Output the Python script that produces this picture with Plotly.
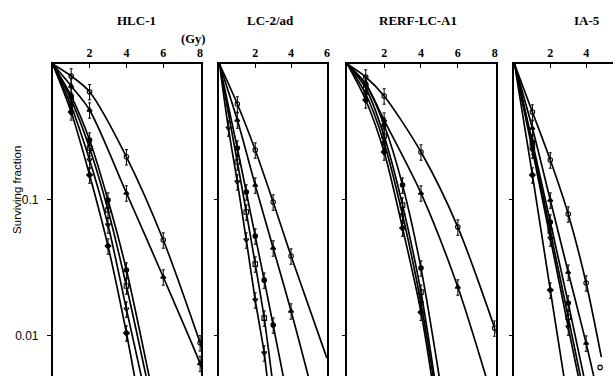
import plotly.graph_objects as go

# ---------------- data (dose in Gy, surviving fraction) ----------------
PANEL_TITLES = ["HLC-1", "LC-2/ad", "RERF-LC-A1", "IA-5"]
X_TICKS = [[2, 4, 6, 8], [2, 4, 6], [2, 4, 6, 8], [2, 4]]
X_RANGES = [[0, 8.05], [0, 6.0], [0, 8.05], [0, 5.5]]
Y_TICK_VALS = [0.1, 0.01]
Y_TICK_TEXT = ["0.1", "0.01"]

# HLC-1
HLC1_A_DOSE = [0, 1, 2, 4, 6, 8, 8.1]
HLC1_A_SF = [1, 0.816, 0.625, 0.207, 0.0504, 0.0088, 0.0080]
HLC1_B_DOSE = [0, 1, 2, 4, 6, 8, 8.1]
HLC1_B_SF = [1, 0.688, 0.458, 0.112, 0.0269, 0.0062, 0.0056]
HLC1_C_DOSE = [0, 1, 2, 3, 4, 5.3]
HLC1_C_SF = [1, 0.581, 0.275, 0.0993, 0.0303, 0.0045]
HLC1_D_DOSE = [0, 1, 2, 3, 4, 5.14]
HLC1_D_SF = [1, 0.543, 0.240, 0.0838, 0.0231, 0.0045]
HLC1_E_DOSE = [0, 1, 2, 3, 4, 4.88]
HLC1_E_SF = [1, 0.490, 0.196, 0.0650, 0.0156, 0.0045]
HLC1_F_DOSE = [0, 1, 2, 3, 4, 4.5]
HLC1_F_SF = [1, 0.443, 0.152, 0.0455, 0.0104, 0.0045]

# LC-2/ad
LC2_A_DOSE = [0, 1, 2, 3, 4, 6]
LC2_A_SF = [1, 0.507, 0.232, 0.0960, 0.0384, 0.00679]
LC2_B_DOSE = [0, 1, 2, 3, 4, 5.05]
LC2_B_SF = [1, 0.386, 0.128, 0.0440, 0.0151, 0.0045]
LC2_C_DOSE = [0, 1, 1.5, 2, 2.5, 3, 3.63]
LC2_C_SF = [1, 0.240, 0.1138, 0.0539, 0.0255, 0.0119, 0.0045]
LC2_D_DOSE = [0, 1, 1.5, 2, 2.5, 2.97]
LC2_D_SF = [1, 0.1894, 0.0810, 0.0335, 0.01339, 0.0045]
LC2_E_DOSE = [0, 0.5, 1, 1.5, 2, 2.5, 2.69]
LC2_E_SF = [1, 0.337, 0.135, 0.0504, 0.0182, 0.0074, 0.0045]

# RERF-LC-A1
RERF_A_DOSE = [0, 1, 2, 4, 6, 8, 8.1]
RERF_A_SF = [1, 0.802, 0.581, 0.2244, 0.0628, 0.0113, 0.0102]
RERF_B_DOSE = [0, 1, 2, 4, 6, 7.62]
RERF_B_SF = [1, 0.712, 0.386, 0.1119, 0.0227, 0.0045]
RERF_C_DOSE = [0, 1, 2, 3, 4, 5.04]
RERF_C_SF = [1, 0.712, 0.355, 0.128, 0.0313, 0.0045]
RERF_D_DOSE = [0, 1, 2, 3, 4, 4.77]
RERF_D_SF = [1, 0.665, 0.2944, 0.0912, 0.0208, 0.0045]
RERF_E_DOSE = [0, 1, 2, 3, 4, 4.71]
RERF_E_SF = [1, 0.601, 0.2615, 0.0770, 0.0173, 0.0045]
RERF_F_DOSE = [0, 1, 2, 3, 4, 4.62]
RERF_F_SF = [1, 0.543, 0.2244, 0.0617, 0.0148, 0.0045]

# IA-5
IA5_A_DOSE = [0, 1, 2, 3, 4, 4.85]
IA5_A_SF = [1, 0.443, 0.196, 0.0783, 0.0243, 0.0069]
IA5_B_DOSE = [0, 1, 2, 3, 4, 4.5]
IA5_B_SF = [1, 0.337, 0.0993, 0.0292, 0.00876, 0.0045]
IA5_C_DOSE = [0, 1, 2, 3, 3.94]
IA5_C_SF = [1, 0.266, 0.0684, 0.0173, 0.0045]
IA5_D_DOSE = [0, 1, 2, 3, 3.75]
IA5_D_SF = [1, 0.2484, 0.0587, 0.01362, 0.0045]
IA5_E_DOSE = [0, 1, 2, 3, 3.63]
IA5_E_SF = [1, 0.232, 0.0521, 0.0115, 0.0045]
IA5_F_DOSE = [0, 1, 2, 2.81]
IA5_F_SF = [1, 0.152, 0.02154, 0.0045]
IA5_LONE_DOSE = [4.78]
IA5_LONE_SF = [0.0058]

SYMBOLS = ["circle-open", "triangle-up", "circle", "square-open", "triangle-down-open", "diamond"]
ERR_PCT = 13

panels = [
    [(HLC1_A_DOSE, HLC1_A_SF), (HLC1_B_DOSE, HLC1_B_SF), (HLC1_C_DOSE, HLC1_C_SF),
     (HLC1_D_DOSE, HLC1_D_SF), (HLC1_E_DOSE, HLC1_E_SF), (HLC1_F_DOSE, HLC1_F_SF)],
    [(LC2_A_DOSE, LC2_A_SF), (LC2_B_DOSE, LC2_B_SF), (LC2_C_DOSE, LC2_C_SF),
     (LC2_D_DOSE, LC2_D_SF), (LC2_E_DOSE, LC2_E_SF)],
    [(RERF_A_DOSE, RERF_A_SF), (RERF_B_DOSE, RERF_B_SF), (RERF_C_DOSE, RERF_C_SF),
     (RERF_D_DOSE, RERF_D_SF), (RERF_E_DOSE, RERF_E_SF), (RERF_F_DOSE, RERF_F_SF)],
    [(IA5_A_DOSE, IA5_A_SF), (IA5_B_DOSE, IA5_B_SF), (IA5_C_DOSE, IA5_C_SF),
     (IA5_D_DOSE, IA5_D_SF), (IA5_E_DOSE, IA5_E_SF), (IA5_F_DOSE, IA5_F_SF)],
]

W, H = 616, 376
X_DOMAINS_PX = [(53, 202), (220.5, 328.5), (349, 498), (517, 616)]
TOP_PX = 64

fig = go.Figure()

for p, curves in enumerate(panels):
    xa = "x" if p == 0 else f"x{p+1}"
    ya = "y" if p == 0 else f"y{p+1}"
    for c, (d, s) in enumerate(curves):
        fig.add_trace(go.Scatter(
            x=d, y=s, xaxis=xa, yaxis=ya, mode="lines",
            line=dict(color="black", width=1.7, shape="spline", smoothing=0.8),
            hoverinfo="skip", showlegend=False))
        fig.add_trace(go.Scatter(
            x=d[1:-1], y=s[1:-1], xaxis=xa, yaxis=ya, mode="markers",
            marker=dict(symbol=SYMBOLS[c % len(SYMBOLS)], size=4.5, color="black",
                        line=dict(color="black", width=1.1)),
            error_y=dict(type="percent", value=ERR_PCT, color="black", thickness=1, width=1.5),
            hoverinfo="skip", showlegend=False))
    if p == 3:
        fig.add_trace(go.Scatter(
            x=IA5_LONE_DOSE, y=IA5_LONE_SF, xaxis=xa, yaxis=ya, mode="markers",
            marker=dict(symbol="circle-open", size=4.5, color="black", line=dict(width=1.1)),
            hoverinfo="skip", showlegend=False))

layout = dict(width=W, height=H, margin=dict(l=0, r=0, t=0, b=0),
              paper_bgcolor="white", plot_bgcolor="white", showlegend=False)

ydom = [0, 1 - TOP_PX / H]
for p in range(4):
    xk = "xaxis" if p == 0 else f"xaxis{p+1}"
    yk = "yaxis" if p == 0 else f"yaxis{p+1}"
    x0, x1 = X_DOMAINS_PX[p]
    layout[xk] = dict(
        domain=[x0 / W, x1 / W], range=X_RANGES[p], side="top",
        anchor="y" if p == 0 else f"y{p+1}",
        showline=True, linecolor="black", linewidth=1.6, showgrid=False, zeroline=False,
        ticks="inside", ticklen=4, tickwidth=1.4, tickcolor="black",
        tickvals=X_TICKS[p], ticktext=[str(t) for t in X_TICKS[p]],
        tickfont=dict(family="Liberation Serif", size=12, color="black", weight="bold"))
    layout[yk] = dict(
        domain=ydom, type="log", range=[-2.30, 0],
        anchor="x" if p == 0 else f"x{p+1}",
        showline=True, linecolor="black", linewidth=1.6, mirror=(p < 3),
        showgrid=False, zeroline=False,
        ticks="outside", ticklen=4, tickwidth=1.2, tickcolor="black",
        tickvals=Y_TICK_VALS, ticktext=Y_TICK_TEXT, showticklabels=(p == 0),
        ticklabelstandoff=6,
        tickfont=dict(family="Liberation Sans", size=12, color="black"))

fig.update_layout(**layout)

title_x_px = [137, 272, 420, 590]
for p, t in enumerate(PANEL_TITLES):
    fig.add_annotation(text=t, x=title_x_px[p] / W, y=1 - 21 / H, xref="paper", yref="paper",
                       showarrow=False, xanchor="center", yanchor="middle",
                       font=dict(family="Liberation Serif", size=13, color="black", weight="bold"))

fig.add_annotation(text="(Gy)", x=194 / W, y=1 - 39 / H, xref="paper", yref="paper",
                   showarrow=False, xanchor="center", yanchor="middle",
                   font=dict(family="Liberation Serif", size=12.5, color="black", weight="bold"))
fig.add_annotation(text="Surviving fraction", x=17 / W, y=1 - 190 / H, xref="paper", yref="paper",
                   showarrow=False, textangle=-90, xanchor="center", yanchor="middle",
                   font=dict(family="Liberation Sans", size=11.5, color="black"))

fig.write_html("out.html")
